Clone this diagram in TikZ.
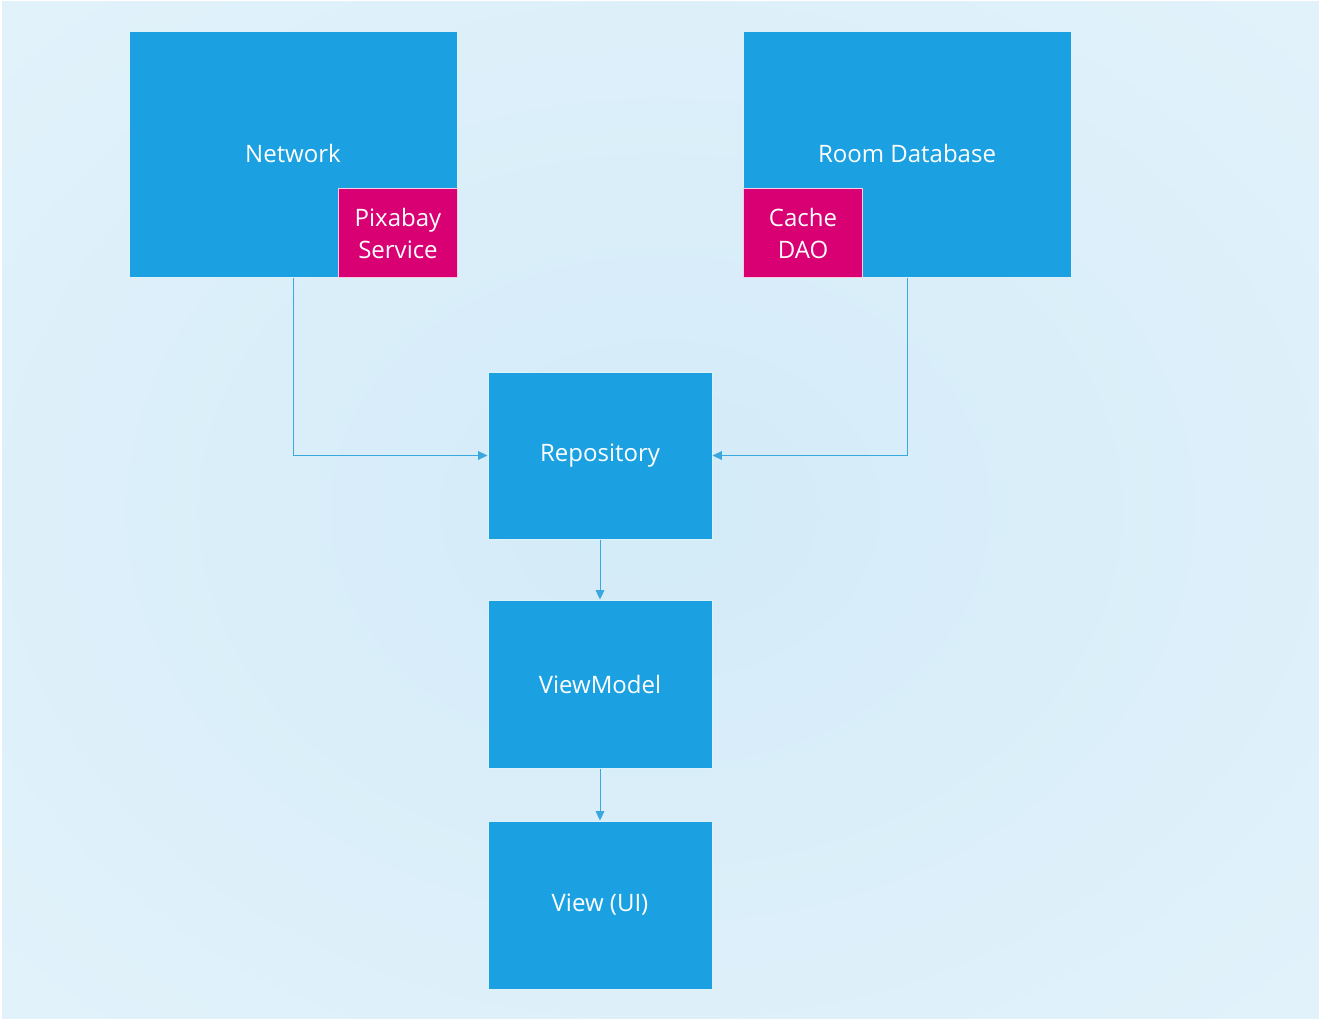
\documentclass[tikz,border=0pt]{standalone}
\usepackage{fontspec}
\setmainfont{Open Sans}
\usetikzlibrary{arrows.meta}
\definecolor{metroblue}{HTML}{1BA1E2}
\definecolor{metromag}{HTML}{D80073}
\definecolor{bgin}{HTML}{D3EBF8}
\definecolor{bgout}{HTML}{E8F5FC}
\definecolor{linec}{HTML}{3AA8DF}
\pgfdeclareradialshading{bgshade}{\pgfpoint{0bp}{0bp}}{color(0bp)=(bgin); color(50bp)=(bgout); color(75bp)=(bgout)}
\tikzset{
  lbl/.style={text=white, font=\fontsize{18}{24}\selectfont, align=center},
  bluebox/.style={lbl, fill=metroblue, draw=white!85!metroblue, line width=0.75pt},
  magbox/.style={lbl, fill=metromag, draw=white!80!metromag, line width=0.75pt},
  conn/.style={draw=linec, line width=0.75pt, -{Triangle[length=7pt,width=6.5pt]}}
}
\begin{document}
\begin{tikzpicture}[x=0.75pt,y=-0.75pt]
\useasboundingbox (0,0) rectangle (1320,1020);
\shade[shading=bgshade] (0,0) rectangle (1320,1020);
\draw[white, line width=1.5pt] (0.5,0.5) rectangle (1319.5,1019.5);
% boxes
\node[bluebox, minimum width=328*0.75pt, minimum height=246*0.75pt, anchor=north west, inner sep=0pt] (net) at (129,31) {};
\node[lbl] (nettxt) at (293,153) {Network};
\node[magbox, minimum width=119*0.75pt, minimum height=89*0.75pt, anchor=north west, inner sep=0pt] (pix) at (338,188) {Pixabay\\Service};
\node[bluebox, minimum width=328*0.75pt, minimum height=246*0.75pt, anchor=north west, inner sep=0pt] (room) at (743,31) {};
\node[lbl] (roomtxt) at (907,153) {Room Database};
\node[magbox, minimum width=119*0.75pt, minimum height=89*0.75pt, anchor=north west, inner sep=0pt] (dao) at (743,188) {Cache\\DAO};
\node[bluebox, minimum width=224*0.75pt, minimum height=167*0.75pt, inner sep=0pt] (repo) at (600,455.5) {Repository};
\node[bluebox, minimum width=224*0.75pt, minimum height=168*0.75pt, inner sep=0pt] (vm) at (600,684) {ViewModel};
\node[bluebox, minimum width=224*0.75pt, minimum height=168*0.75pt, inner sep=0pt] (view) at (600,905) {View (UI)};
% connectors
\draw[conn] (net.south) |- (repo.west);
\draw[conn] (room.south) |- (repo.east);
\draw[conn] (repo.south) -- (vm.north);
\draw[conn] (vm.south) -- (view.north);
\end{tikzpicture}
\end{document}
